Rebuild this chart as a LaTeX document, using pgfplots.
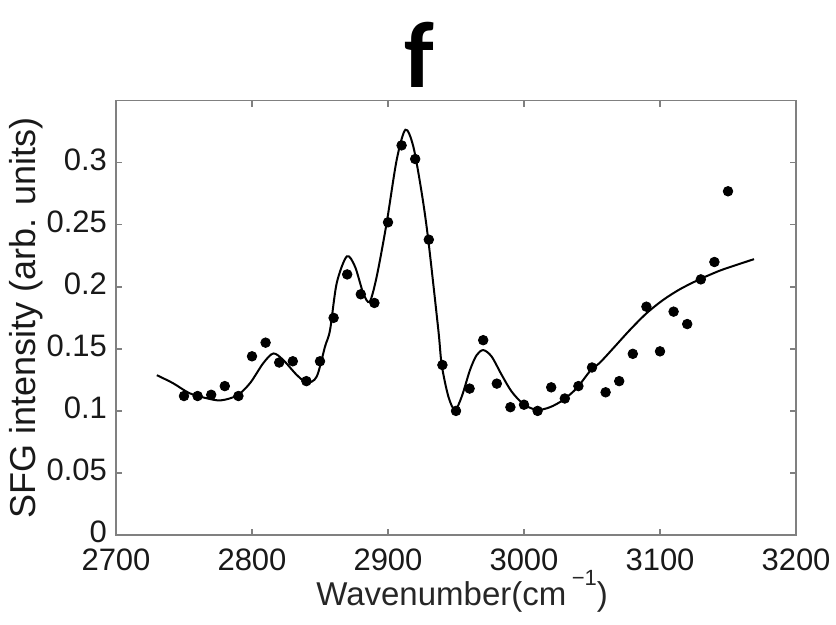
\documentclass[border=0pt]{standalone}
\usepackage{fontspec}
\setmainfont{Liberation Sans}
\newfontfamily\titlefont{Carlito}
\usepackage{pgfplots}
\pgfplotsset{compat=1.18}

\definecolor{axgray}{RGB}{128,128,128}

% measured SFG intensities
\pgfplotstableread{
x      y
2750   0.112
2760   0.112
2770   0.113
2780   0.120
2790   0.112
2800   0.144
2810   0.155
2820   0.139
2830   0.140
2840   0.124
2850   0.140
2860   0.175
2870   0.210
2880   0.194
2890   0.187
2900   0.252
2910   0.314
2920   0.303
2930   0.238
2940   0.137
2950   0.100
2960   0.118
2970   0.157
2980   0.122
2990   0.103
3000   0.105
3010   0.100
3020   0.119
3030   0.110
3040   0.120
3050   0.135
3060   0.115
3070   0.124
3080   0.146
3090   0.184
3100   0.148
3110   0.180
3120   0.170
3130   0.206
3140   0.220
3150   0.277
}\measured

% fitted spectrum
\pgfplotstableread{
x       y
2730.0  0.1288
2742.0  0.1223
2754.0  0.1143
2766.7  0.1102
2777.0  0.1085
2789.0  0.1124
2798.5  0.1223
2808.3  0.1385
2815.7  0.1463
2823.0  0.1410
2832.9  0.1290
2840.5  0.1228
2847.6  0.1277
2853.7  0.1519
2857.4  0.1653
2862.3  0.2030
2869.7  0.2245
2875.7  0.2164
2881.8  0.1949
2886.5  0.1880
2891.7  0.2083
2899.0  0.2514
2906.4  0.3024
2912.8  0.3266
2918.6  0.3131
2924.8  0.2756
2929.6  0.2379
2937.0  0.1653
2939.5  0.1370
2944.4  0.1115
2949.2  0.1008
2954.2  0.1115
2960.3  0.1330
2965.2  0.1450
2970.1  0.1490
2976.2  0.1438
2983.6  0.1290
2990.9  0.1156
2999.5  0.1056
3009.3  0.1008
3019.1  0.1030
3028.9  0.1089
3038.7  0.1183
3048.5  0.1320
3055.9  0.1390
3065.7  0.1506
3077.9  0.1653
3090.2  0.1788
3102.4  0.1895
3114.7  0.1981
3129.4  0.2062
3144.1  0.2131
3156.4  0.2177
3169.1  0.2223
}\fitted

\begin{document}
\begin{tikzpicture}
\begin{axis}[
  scale only axis,
  width=340pt, height=217.15pt,
  xmin=2700, xmax=3200, ymin=0, ymax=0.35,
  xtick={2700,2800,2900,3000,3100,3200},
  xticklabels={2700,2800,2900,3000,3100,3200},
  ytick={0,0.05,0.1,0.15,0.2,0.25,0.3},
  yticklabels={0,0.05,0.1,0.15,0.2,0.25,0.3},
  scaled x ticks=false, scaled y ticks=false,
  tick align=inside, xtick pos=both, ytick pos=both,
  major tick length=3pt,
  axis line style={axgray, line width=0.8pt},
  tick style={axgray, line width=0.7pt},
  tick label style={font=\fontsize{15.5}{18}\selectfont, text=black!90},
  xticklabel style={yshift=-3.5pt},
  yticklabel style={xshift=-1pt, yshift=1.5pt},
  xlabel={Wavenumber(cm\,\raisebox{0.6em}{\fontsize{11}{11}\selectfont −1})},
  xlabel style={at={(axis description cs:0.509,0)}, anchor=base, yshift=-35pt,
                font=\fontsize{16.5}{19}\selectfont, text=black!85},
  ylabel={SFG intensity (arb. units)},
  ylabel style={at={(axis description cs:-0.1324,0.5)}, anchor=center,
                font=\fontsize{18}{21}\selectfont, text=black!90},
]
\addplot[black, line width=1pt, smooth, tension=0.5] table[x=x, y=y] {\fitted};
\addplot[only marks, mark=*, mark size=2.4pt, black] table[x=x, y=y] {\measured};
\end{axis}
\node[font=\titlefont\bfseries\fontsize{47}{52}\selectfont, anchor=base]
  at ([xshift=151.5pt, yshift=6.35pt]current axis.north west) {f};
\pgfresetboundingbox
\path[use as bounding box]
  ([xshift=-58pt, yshift=-44.5pt]current axis.south west)
  rectangle ([xshift=20pt, yshift=50.35pt]current axis.north east);
\end{tikzpicture}
\end{document}
